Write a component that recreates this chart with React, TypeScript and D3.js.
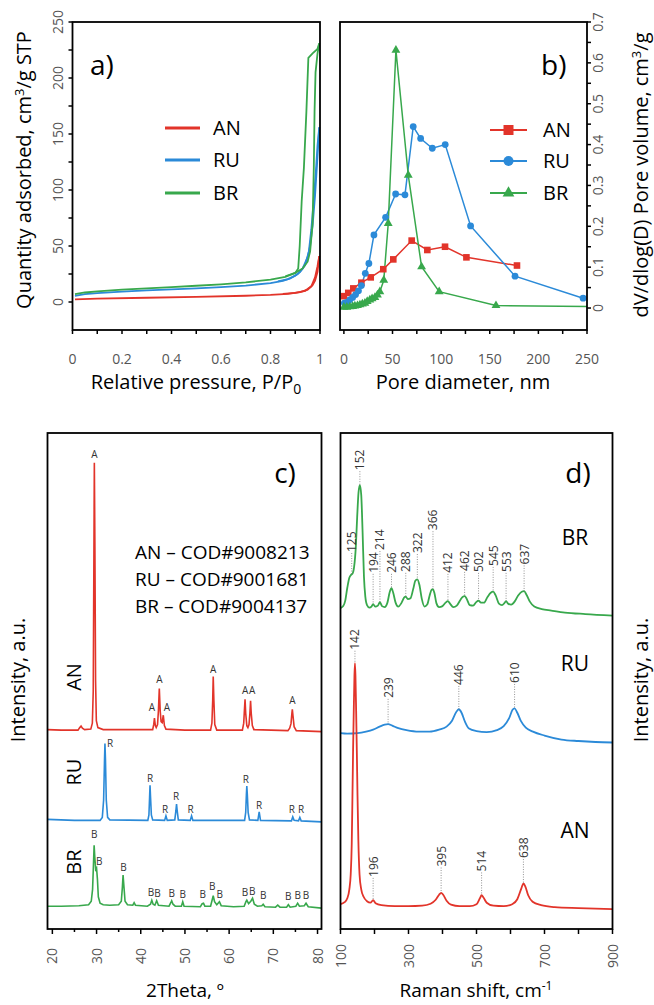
import React from 'react';
import * as d3 from 'd3';

type P = [number, number];

const RED = '#e2342a';
const BLUE = '#2b8ad8';
const GREEN = '#38a84c';
const FONT = "'Open Sans', 'Noto Sans', sans-serif";
const TICKC = '#555';

// ---------- Panel a: isotherms ----------
const isoXTicks = [0, 0.2, 0.4, 0.6, 0.8, 1];
const isoYTicks = [0, 50, 100, 150, 200, 250];
const isoAN_ads: P[] = [[0.01,2.3],[0.1,3],[0.3,3.8],[0.5,4.6],[0.7,5.6],[0.8,6.3],[0.87,7.3],[0.92,8.8],[0.95,11],[0.97,15],[0.98,19],[0.99,27],[0.997,41]];
const isoAN_des: P[] = [[0.997,41],[0.99,32],[0.98,22],[0.965,14],[0.94,10],[0.9,8.2],[0.85,7.2]];
const isoRU_ads: P[] = [[0.01,5.5],[0.05,7],[0.1,8],[0.2,9.3],[0.3,10.3],[0.4,11.2],[0.5,12.2],[0.6,13.3],[0.7,14.7],[0.8,16.8],[0.85,18.8],[0.88,21],[0.91,25],[0.93,30],[0.95,40],[0.96,50],[0.97,68],[0.98,95],[0.99,130],[0.997,156]];
const isoRU_des: P[] = [[0.997,156],[0.99,140],[0.985,122],[0.975,92],[0.965,65],[0.955,45],[0.94,33],[0.92,27],[0.9,23.5],[0.87,20.5],[0.83,18.5]];
const isoBR_ads: P[] = [[0.01,7],[0.05,8.5],[0.1,9.5],[0.2,11],[0.3,12.2],[0.4,13.3],[0.5,14.5],[0.6,15.8],[0.7,17.5],[0.8,20],[0.86,22.5],[0.9,26],[0.93,30],[0.95,36],[0.96,45],[0.97,70],[0.975,120],[0.978,170],[0.982,205],[0.99,222],[0.997,231]];
const isoBR_des: P[] = [[0.997,231],[0.99,226],[0.97,222],[0.953,218],[0.945,170],[0.935,120],[0.926,90],[0.918,50],[0.912,30],[0.9,26],[0.86,23]];

// ---------- Panel b: pore size distribution ----------
const poreXTicks = [0, 50, 100, 150, 200, 250];
const poreYTicks = [0, 0.1, 0.2, 0.3, 0.4, 0.5, 0.6, 0.7];
const poreAN: P[] = [[0,0.029],[4.5,0.037],[9.7,0.048],[18,0.062],[27.6,0.075],[40.5,0.095],[50.8,0.119],[69.7,0.165],[85.8,0.142],[104,0.15],[126,0.124],[178,0.104]];
const poreRU: P[] = [[0.5,0.012],[3,0.014],[6,0.02],[9,0.026],[12,0.033],[15,0.042],[18,0.055],[22,0.085],[25.7,0.109],[30.9,0.179],[42.9,0.222],[53.2,0.279],[62.8,0.277],[71.3,0.444],[78.9,0.415],[90.9,0.391],[104.2,0.4],[130.3,0.201],[176,0.078],[246,0.024]];
const poreBR: P[] = [[0,0.002],[3,0.002],[6.2,0.003],[9,0.004],[11.3,0.005],[14,0.006],[16.5,0.008],[19,0.01],[21.6,0.012],[24,0.016],[26.7,0.02],[29,0.023],[31.9,0.026],[34.5,0.032],[37,0.04],[41,0.068],[45.6,0.207],[53.5,0.631],[66.2,0.325],[79.9,0.101],[98,0.04],[156.4,0.006],[250,0.004]];

// ---------- Panel c: XRD ----------
const xrdTicks = [20, 30, 40, 50, 60, 70, 80];
const xrdAN: P[] = [[18.9,40.2],[22,40.1],[25.8,40.1],[26.2,40.6],[26.5,40.9],[26.8,40.5],[27.3,40.2],[28.7,40.3],[29.05,41.5],[29.25,48],[29.4,75],[29.5,94],[29.62,78],[29.78,50],[29.95,42],[30.3,40.6],[31.5,40.2],[42.7,40.2],[42.95,41.3],[43.1,42.5],[43.3,41],[43.5,40.6],[43.8,41.2],[44.0,44],[44.2,48.5],[44.4,44],[44.6,41.8],[44.85,41.6],[45.1,43.1],[45.35,41],[45.7,40.3],[50,40.1],[55.8,40.1],[56.1,41.5],[56.28,46],[56.4,50.9],[56.55,46],[56.75,41.2],[57.2,40.1],[63.0,40.1],[63.3,41.5],[63.45,44],[63.6,46.3],[63.75,43.5],[64.0,41],[64.25,40.6],[64.5,41.2],[64.7,43.5],[64.85,46],[65.0,43.5],[65.25,41],[65.6,40.2],[73.3,40],[73.7,40.5],[74.0,41.4],[74.2,43.5],[74.3,44.3],[74.45,43],[74.7,40.8],[75.2,40],[80.9,39.8]];
const xrdRU: P[] = [[18.9,22.1],[25,21.9],[30.8,21.9],[31.3,22.5],[31.6,26],[31.8,34],[31.9,37.4],[32.02,34],[32.2,26],[32.5,22.5],[33,22],[41.6,21.9],[41.85,23],[42.0,26.5],[42.1,29],[42.22,26.5],[42.4,23],[42.7,22],[45.4,21.9],[45.7,22.8],[46.0,21.9],[47.7,22],[47.95,23.8],[48.1,25.2],[48.25,23.8],[48.5,22],[51.2,21.9],[51.5,22.8],[51.8,21.9],[63.5,21.9],[63.75,23.5],[63.9,27],[64.0,28.8],[64.12,27],[64.3,23.5],[64.6,22],[66.5,21.9],[66.8,23.6],[67.1,21.9],[74.1,21.8],[74.4,22.6],[74.7,21.9],[75.7,21.8],[76.0,22.5],[76.3,21.8],[80.9,21.6]];
const xrdBR: P[] = [[18.9,4.6],[22,4.6],[26,4.7],[28.2,4.9],[28.8,5.6],[29.1,8],[29.3,13],[29.45,16.9],[29.6,14.5],[29.8,12],[30.0,12.3],[30.2,10],[30.4,6.5],[30.8,5.2],[31.5,4.9],[33,4.8],[35,4.9],[35.6,5.6],[35.85,8.5],[36.0,10.9],[36.2,8.5],[36.45,5.6],[37,4.9],[38.2,4.8],[38.5,5.3],[38.8,4.8],[41.5,4.6],[42.2,5.0],[42.5,5.8],[42.8,5.0],[43.2,4.8],[43.6,5.7],[44.0,4.8],[46.4,4.6],[46.8,5.3],[47.0,5.7],[47.3,5.0],[47.8,4.6],[49.2,4.6],[49.5,5.5],[49.8,4.6],[53.5,4.5],[53.9,5.1],[54.2,5.2],[54.5,4.6],[55.8,4.6],[56.2,6.0],[56.4,6.7],[56.7,5.5],[57.2,4.9],[57.8,5.5],[58.2,4.7],[61,4.5],[63.4,4.6],[63.8,5.5],[64.0,5.8],[64.4,5.1],[64.9,5.6],[65.3,6.2],[65.7,5.0],[66.4,4.6],[67.4,4.7],[67.7,5.0],[68.1,4.5],[70.5,4.4],[71.0,4.8],[71.5,4.4],[73.0,4.4],[73.4,4.9],[73.8,4.4],[75.1,4.6],[75.5,5.2],[75.9,4.6],[77.0,4.7],[77.4,5.2],[77.9,4.5],[80.9,4.2]];
// phase labels: [2theta, intensity]
const xrdLabAN: P[] = [[29.5,95.6],[42.5,44.6],[44.2,50.3],[45.9,44.6],[56.4,52.4],[63.6,48.0],[65.2,48.0],[74.3,46.0]];
const xrdLabRU: P[] = [[33.05,37.5],[42.1,30.4],[45.5,24.1],[48.0,26.7],[51.3,24.1],[63.8,30.2],[66.8,25.0],[74.2,24.1],[76.3,24.1]];
const xrdLabBR: P[] = [[29.5,19.0],[30.6,13.7],[36.1,12.4],[42.3,7.3],[43.8,7.2],[47.0,7.2],[49.5,7.0],[54.0,7.0],[56.2,8.5],[57.9,7.0],[63.6,7.3],[65.2,7.5],[67.7,6.7],[73.4,6.5],[75.5,6.7],[77.4,6.7]];
const codLines = ['AN – COD#9008213', 'RU – COD#9001681', 'BR – COD#9004137'];

// ---------- Panel d: Raman ----------
const ramanTicks = [100, 200, 300, 400, 500, 600, 700, 800, 900];
const ramanTickLabels = [100, 300, 500, 700, 900];
const ramanBR: P[] = [[100,64.7],[108,65.1],[114,66.2],[120,68.8],[126,70.8],[131,71.4],[135,71.6],[140,73],[145,77],[149,83],[153,88],[157,89.5],[161,87.5],[165,80],[169,71],[173,67],[178,65.3],[185,64.8],[191,65],[196,65.5],[202,65],[210,65.2],[216,65.9],[222,65.1],[230,64.9],[238,65.8],[245,68],[250,68.7],[255,67.8],[262,65.8],[270,65],[279,65.7],[287,66.8],[292,67],[298,66.5],[306,66.7],[314,68.6],[320,70.2],[326,70.5],[332,69.4],[339,66.6],[347,65],[355,65.4],[362,67.2],[368,68.4],[372,68.5],[376,67.8],[382,65.7],[390,64.9],[400,65.1],[409,65.8],[416,66.1],[422,65.6],[432,64.9],[442,65.2],[453,66.4],[460,67],[465,67.1],[471,66.6],[480,65.3],[490,65.2],[499,65.9],[506,66.2],[513,65.8],[522,65.8],[532,66.9],[542,67.8],[549,68],[556,67.3],[566,65.6],[575,65.3],[582,65.7],[587,66.1],[593,65.6],[602,65.4],[612,66],[622,67.2],[633,68],[640,68.1],[647,67.4],[657,66],[670,65],[692,64.5],[720,64.2],[760,63.8],[820,63.5],[900,63.2]];
const ramanRU: P[] = [[100,39.5],[120,39.4],[150,39.5],[175,39.8],[196,40.2],[215,40.8],[230,41.2],[240,41.3],[252,41.0],[270,40.5],[294,40.1],[330,39.8],[362,39.8],[390,40.2],[412,40.8],[428,42],[440,43.7],[448,44.3],[456,43.6],[466,41.8],[478,40.4],[500,39.9],[530,39.7],[560,40.1],[580,40.9],[596,42.5],[606,44.2],[612,44.5],[620,43.6],[630,42],[645,40.6],[666,39.8],[700,39],[750,38.2],[800,37.9],[850,37.7],[900,37.6]];
const ramanAN: P[] = [[100,5.0],[112,5.4],[120,6.2],[126,8],[130,11],[133,17],[135,26],[137,36],[139,44],[141,51],[142.5,53.6],[144,51],[146,44],[148,36],[150,27],[152.5,18],[156,11],[161,8],[168,6.5],[178,5.6],[188,5.3],[196,5.8],[203,5.2],[220,4.8],[260,4.6],[300,4.6],[340,4.7],[365,5.1],[380,5.9],[390,6.9],[396,7.3],[402,6.9],[412,5.7],[425,4.9],[450,4.6],[480,4.6],[500,5],[510,6.2],[515,6.8],[520,6.4],[530,5.3],[550,4.7],[580,4.6],[605,5],[620,6],[632,8.2],[638,9.2],[644,8.5],[652,6.8],[665,5.5],[690,4.8],[730,4.4],[800,4.2],[900,4.0]];
// peak annotations: [label text, shift position, label start, peak top]
type Ann = [string, number, number, number];
const ramanAnn: Ann[] = [
  ['125', 133, 76.0, 71.5], ['152', 157, 92.5, 89.5], ['194', 196, 71.8, 65.5], ['214', 216, 76.4, 65.9],
  ['246', 250, 71.8, 68.7], ['288', 292, 72.0, 67.0], ['322', 326, 75.8, 70.5], ['366', 372, 80.4, 68.5],
  ['412', 416, 71.8, 66.1], ['462', 465, 72.2, 67.1], ['502', 506, 72.0, 66.2], ['545', 549, 73.2, 68.0],
  ['553', 587, 72.0, 66.1], ['637', 640, 73.5, 68.1],
  ['142', 142.5, 56.3, 53.6], ['239', 240, 46.6, 41.3], ['446', 448, 49.2, 44.3], ['610', 612, 49.6, 44.5],
  ['196', 196, 10.5, 5.8], ['395', 396, 12.6, 7.3], ['514', 515, 11.6, 6.8], ['638', 638, 14.3, 9.2],
];

const mkLine = (xs: d3.ScaleLinear<number, number>, ys: d3.ScaleLinear<number, number>, curve: d3.CurveFactory = d3.curveLinear) =>
  d3.line<P>().x(d => xs(d[0])).y(d => ys(d[1])).curve(curve);

const RText = ({ x, y, size, fill = '#000', weight = 400, children }: any) => (
  <text transform={`translate(${x},${y}) rotate(-90)`} textAnchor="middle" fontSize={size} fill={fill} fontWeight={weight}>{children}</text>
);

export default function App() {
  const axA = d3.scaleLinear().domain([0, 1]).range([72.5, 320]);
  const ayA = d3.scaleLinear().domain([-25, 250]).range([330, 22]);
  const axB = d3.scaleLinear().domain([-4, 250]).range([340, 587]);
  const ayB = d3.scaleLinear().domain([-0.0538, 0.7]).range([330, 22]);
  const axC = d3.scaleLinear().domain([18.9, 80.9]).range([47.5, 321.5]);
  const ayC = d3.scaleLinear().domain([0, 100]).range([929, 433]);
  const axD = d3.scaleLinear().domain([100, 900]).range([340.5, 612.5]);
  const ayD = ayC;

  const lA = mkLine(axA, ayA);
  const lB = mkLine(axB, ayB);
  const lC = mkLine(axC, ayC);
  const lD = mkLine(axD, ayD, d3.curveMonotoneX);

  const frame = (xs: any, ys: any) => {
    const [x0, x1] = xs.range();
    const [y0, y1] = ys.range();
    return <rect x={x0} y={y1} width={x1 - x0} height={y0 - y1} fill="none" stroke="#000" strokeWidth={1.8} />;
  };

  const tri = d3.symbol().type(d3.symbolTriangle).size(34)() as string;
  const triL = d3.symbol().type(d3.symbolTriangle).size(60)() as string;

  const iso: [P[], P[], string][] = [[isoRU_ads, isoRU_des, BLUE], [isoBR_ads, isoBR_des, GREEN], [isoAN_ads, isoAN_des, RED]];

  return (
    <svg width={654} height={1005} style={{ position: 'absolute', left: 0, top: 0, background: '#fff' }} fontFamily={FONT}>
      <rect x={0} y={0} width={654} height={1005} fill="#fff" />

      {/* ===== Panel a ===== */}
      {d3.range(0, 1.0001, 0.1).map(v => (
        <line key={'atx' + v} x1={axA(v)} x2={axA(v)} y1={330} y2={334} stroke="#000" strokeWidth={1.5} />
      ))}
      {d3.range(0, 251, 25).map(v => (
        <line key={'aty' + v} x1={72.5 - 4} x2={72.5} y1={ayA(v)} y2={ayA(v)} stroke="#000" strokeWidth={1.5} />
      ))}
      {isoXTicks.map(v => (
        <text key={'axl' + v} x={axA(v)} y={364} textAnchor="middle" fontSize={14} fill={TICKC}>{v}</text>
      ))}
      {isoYTicks.map(v => (
        <RText key={'ayl' + v} x={63} y={ayA(v)} size={14} fill={TICKC}>{v}</RText>
      ))}
      {iso.map(([a, d, c], i) => (
        <g key={'iso' + i}>
          <path d={lA(a) as string} fill="none" stroke={c} strokeWidth={1.8} />
          <path d={lA(d) as string} fill="none" stroke={c} strokeWidth={1.8} />
        </g>
      ))}
      {frame(axA, ayA)}
      <text x={90} y={75} fontSize={28}>a)</text>
      {[['AN', RED, 128], ['RU', BLUE, 160], ['BR', GREEN, 193]].map(([t, c, y]: any) => (
        <g key={'la' + t}>
          <line x1={165} x2={200} y1={y} y2={y} stroke={c} strokeWidth={3} />
          <text x={213} y={y} dy="0.35em" fontSize={20}>{t}</text>
        </g>
      ))}
      <text x={196} y={389} textAnchor="middle" fontSize={20}>
        Relative pressure, P/P<tspan fontSize={14} dy={5}>0</tspan>
      </text>
      <text transform="translate(31,170) rotate(-90)" textAnchor="middle" fontSize={20}>
        Quantity adsorbed, cm<tspan fontSize={13} dy={-7}>3</tspan><tspan dy={7}>/g STP</tspan>
      </text>

      {/* ===== Panel b ===== */}
      {d3.range(0, 251, 25).map(v => (
        <line key={'btx' + v} x1={axB(v)} x2={axB(v)} y1={330} y2={334} stroke="#000" strokeWidth={1.5} />
      ))}
      {d3.range(0, 0.7001, 0.05).map(v => (
        <line key={'bty' + v} x1={587} x2={591} y1={ayB(v)} y2={ayB(v)} stroke="#000" strokeWidth={1.5} />
      ))}
      {poreXTicks.map(v => (
        <text key={'bxl' + v} x={axB(v)} y={364} textAnchor="middle" fontSize={14} fill={TICKC}>{v}</text>
      ))}
      {poreYTicks.map(v => (
        <RText key={'byl' + v} x={603} y={ayB(v)} size={14} fill={TICKC}>{v === 0 ? '0' : v.toFixed(1)}</RText>
      ))}
      <path d={lB(poreAN) as string} fill="none" stroke={RED} strokeWidth={1.5} />
      <path d={lB(poreRU) as string} fill="none" stroke={BLUE} strokeWidth={1.5} />
      <path d={lB(poreBR) as string} fill="none" stroke={GREEN} strokeWidth={1.5} />
      {poreAN.map((d, i) => (
        <rect key={'pa' + i} x={axB(d[0]) - 3.3} y={ayB(d[1]) - 3.3} width={6.6} height={6.6} fill={RED} />
      ))}
      {poreRU.map((d, i) => (
        <circle key={'pr' + i} cx={axB(d[0])} cy={ayB(d[1])} r={3.4} fill={BLUE} />
      ))}
      {poreBR.slice(0, -1).map((d, i) => (
        <path key={'pb' + i} d={tri} transform={`translate(${axB(d[0])},${ayB(d[1])})`} fill={GREEN} />
      ))}
      {frame(axB, ayB)}
      <text x={541} y={75} fontSize={28}>b)</text>
      {[['AN', RED, 130, 's'], ['RU', BLUE, 161, 'c'], ['BR', GREEN, 193, 't']].map(([t, c, y, m]: any) => (
        <g key={'lb' + t}>
          <line x1={490} x2={527} y1={y} y2={y} stroke={c} strokeWidth={2} />
          {m === 's' && <rect x={503.5} y={y - 5} width={10} height={10} fill={c} />}
          {m === 'c' && <circle cx={508.5} cy={y} r={5} fill={c} />}
          {m === 't' && <path d={triL} transform={`translate(508.5,${y})`} fill={c} />}
          <text x={543} y={y} dy="0.35em" fontSize={20}>{t}</text>
        </g>
      ))}
      <text x={463} y={389} textAnchor="middle" fontSize={20}>Pore diameter, nm</text>
      <text transform="translate(648,175) rotate(-90)" textAnchor="middle" fontSize={20}>
        dV/dlog(D) Pore volume, cm<tspan fontSize={13} dy={-7}>3</tspan><tspan dy={7}>/g</tspan>
      </text>

      {/* ===== Panel c ===== */}
      {d3.range(20, 80.1, 5).map(v => (
        <line key={'ctx' + v} x1={axC(v)} x2={axC(v)} y1={929} y2={v % 10 === 0 ? 934 : 932} stroke="#000" strokeWidth={1.5} />
      ))}
      {xrdTicks.map(v => (
        <RText key={'cxl' + v} x={axC(v) + 5} y={956} size={14} fill={TICKC}>{v}</RText>
      ))}
      <path d={lC(xrdAN) as string} fill="none" stroke={RED} strokeWidth={1.6} />
      <path d={lC(xrdRU) as string} fill="none" stroke={BLUE} strokeWidth={1.6} />
      <path d={lC(xrdBR) as string} fill="none" stroke={GREEN} strokeWidth={1.6} />
      {([[xrdLabAN, 'A'], [xrdLabRU, 'R'], [xrdLabBR, 'B']] as [P[], string][]).map(([arr, t]) =>
        arr.map((d, i) => (
          <text key={'xl' + t + i} x={axC(d[0])} y={ayC(d[1])} dy="0.35em" textAnchor="middle" fontSize={10} fill="#333">{t}</text>
        ))
      )}
      {frame(axC, ayC)}
      <text x={285} y={483} textAnchor="middle" fontSize={28}>c)</text>
      {codLines.map((t, i) => (
        <text key={'cod' + i} x={135} y={559 + i * 27} fontSize={19}>{t}</text>
      ))}
      <RText x={81} y={677} size={20}>AN</RText>
      <RText x={81} y={772} size={20}>RU</RText>
      <RText x={81} y={862} size={20}>BR</RText>
      <text x={185} y={997} textAnchor="middle" fontSize={19}>2Theta, º</text>
      <RText x={25} y={680} size={20}>Intensity, a.u.</RText>

      {/* ===== Panel d ===== */}
      {ramanTicks.map(v => (
        <line key={'dtx' + v} x1={axD(v)} x2={axD(v)} y1={929} y2={934} stroke="#000" strokeWidth={1.5} />
      ))}
      {ramanTickLabels.map(v => (
        <RText key={'dxl' + v} x={axD(v) + 5} y={956} size={14} fill={TICKC}>{v}</RText>
      ))}
      <path d={lD(ramanBR) as string} fill="none" stroke={GREEN} strokeWidth={1.8} />
      <path d={lD(ramanRU) as string} fill="none" stroke={BLUE} strokeWidth={1.8} />
      <path d={lD(ramanAN) as string} fill="none" stroke={RED} strokeWidth={1.8} />
      {ramanAnn.map(([t, x, lab, pk], i) => (
        <g key={'ra' + i}>
          <line x1={axD(x)} x2={axD(x)} y1={ayD(lab) + 1} y2={ayD(pk)} stroke="#777" strokeWidth={0.8} strokeDasharray="1 1.5" />
          <text transform={`translate(${axD(x) + 4.5},${ayD(lab)}) rotate(-90)`} textAnchor="start" fontSize={12} fill="#333">{t}</text>
        </g>
      ))}
      {frame(axD, ayD)}
      <text x={578} y={483} textAnchor="middle" fontSize={28}>d)</text>
      <text x={575} y={545} textAnchor="middle" fontSize={21}>BR</text>
      <text x={575} y={671} textAnchor="middle" fontSize={21}>RU</text>
      <text x={575} y={838} textAnchor="middle" fontSize={21}>AN</text>
      <text x={476} y={997} textAnchor="middle" fontSize={19}>
        Raman shift, cm<tspan fontSize={12} dy={-7}>-1</tspan>
      </text>
      <RText x={648} y={680} size={20}>Intensity, a.u.</RText>
    </svg>
  );
}
